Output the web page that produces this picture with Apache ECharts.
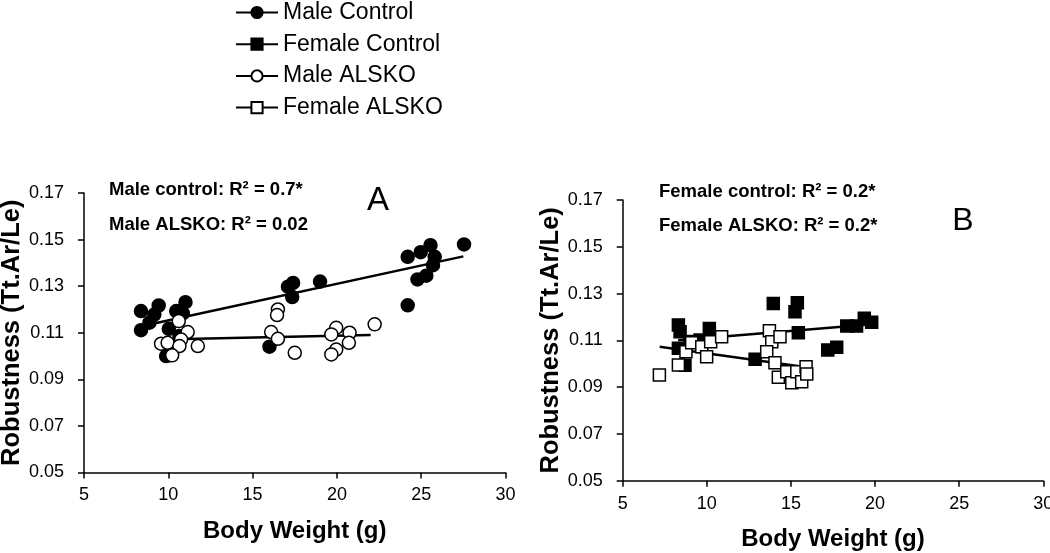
<!DOCTYPE html>
<html>
<head>
<meta charset="utf-8">
<script src="https://cdn.jsdelivr.net/npm/echarts@6/dist/echarts.min.js"></script>
<style>html,body{margin:0;padding:0;background:#fff;}#c{width:1050px;height:553px;}</style>
</head>
<body>
<div id="c"></div>
<script>
// ---- Data ----
var xTicks = [5, 10, 15, 20, 25, 30];
var yTicks = [0.05, 0.07, 0.09, 0.11, 0.13, 0.15, 0.17];

var maleControl = [[8.38,0.1193],[8.38,0.1111],[8.88,0.1143],[9.17,0.1178],[9.43,0.1217],[10.03,0.1117],[10.47,0.1193],[10.86,0.1183],[11.02,0.1231],[10.66,0.1086],[9.87,0.1000],[10.05,0.1003],[16.0,0.1040],[17.1,0.1298],[17.4,0.1314],[17.35,0.1253],[19.0,0.1320],[24.2,0.1426],[24.2,0.1218],[24.97,0.1446],[25.55,0.1476],[25.8,0.1426],[25.7,0.1390],[25.3,0.1345],[24.78,0.1329],[27.54,0.1479]];
var maleAlsko = [[10.62,0.1150],[11.15,0.1103],[10.76,0.1071],[9.57,0.1053],[9.96,0.1057],[10.66,0.1043],[11.75,0.1043],[10.23,0.1003],[16.1,0.1103],[16.5,0.1074],[16.5,0.1200],[16.45,0.1176],[17.5,0.1014],[19.96,0.1121],[19.67,0.1093],[20.75,0.1100],[20.71,0.1057],[19.96,0.1028],[19.67,0.1007],[22.24,0.1136]];
var femaleControl = [[8.31,0.1166],[8.41,0.1137],[10.15,0.1151],[8.31,0.1066],[8.7,0.0994],[9.0,0.1095],[9.6,0.1101],[12.87,0.1019],[13.95,0.1258],[15.24,0.1222],[15.38,0.1261],[15.44,0.1132],[17.19,0.1059],[17.72,0.1070],[18.32,0.1161],[18.9,0.1161],[19.36,0.1194],[19.8,0.1177]];
var femaleAlsko = [[7.18,0.0952],[8.31,0.0995],[8.76,0.1051],[9.1,0.1090],[9.7,0.1073],[9.99,0.1030],[10.23,0.1094],[10.88,0.1115],[13.72,0.1141],[13.86,0.1094],[14.35,0.1115],[13.56,0.1051],[14.05,0.1004],[14.25,0.0942],[14.75,0.0966],[15.05,0.0919],[15.35,0.0966],[15.64,0.0923],[15.9,0.0987],[15.94,0.0956]];

var maleControlFit = [[8.4,0.1128],[27.5,0.1428]];
var maleAlskoFit = [[10.3,0.1072],[22.0,0.1090]];
var femaleControlFit = [[8.3,0.1100],[20.0,0.1170]];
var femaleAlskoFit = [[7.2,0.1073],[15.6,0.0988]];

var annotA = ['Male control: R\u00b2 = 0.7*', 'Male ALSKO: R\u00b2 = 0.02'];
var annotB = ['Female control: R\u00b2 = 0.2*', 'Female ALSKO: R\u00b2 = 0.2*'];

// ---- Chart ----
var FONT = '"Liberation Sans", Arial, sans-serif';
var chart = echarts.init(document.getElementById('c'), null, {renderer: 'canvas'});

function xAxis(gi) {
  return {
    type: 'value', gridIndex: gi, min: 5, max: 30, interval: 5,
    name: 'Body Weight (g)', nameLocation: 'middle', nameGap: 47,
    nameTextStyle: {fontFamily: FONT, fontSize: 24, fontWeight: 'bold', color: '#000'},
    axisLine: {lineStyle: {color: '#000', width: 1.5}},
    axisTick: {show: true, inside: false, length: 6, lineStyle: {color: '#000', width: 1.5}, customValues: xTicks},
    axisLabel: {fontFamily: FONT, fontSize: 18, color: '#000', margin: 14, customValues: xTicks},
    splitLine: {show: false}
  };
}
function yAxis(gi, gap) {
  return {
    type: 'value', gridIndex: gi, min: 0.05, max: 0.17, interval: 0.01,
    name: 'Robustness (Tt.Ar/Le)', nameLocation: 'middle', nameGap: gap, nameRotate: 90,
    nameTextStyle: {fontFamily: FONT, fontSize: 25.5, fontWeight: 'bold', color: '#000'},
    axisLine: {show: true, lineStyle: {color: '#000', width: 1.5}},
    axisTick: {show: true, inside: false, length: 6, lineStyle: {color: '#000', width: 1.5}, customValues: yTicks},
    axisLabel: {fontFamily: FONT, fontSize: 18, color: '#000', margin: 20, customValues: yTicks,
      formatter: function (v) { return v.toFixed(2); }},
    splitLine: {show: false}
  };
}
function fitLine(name, data, gi, symbol, fill) {
  return {
    type: 'line', name: name, data: data, xAxisIndex: gi, yAxisIndex: gi,
    symbol: symbol, symbolSize: 12, showSymbol: false, silent: true, z: 1,
    lineStyle: {color: '#000', width: 2.5},
    itemStyle: {color: fill, borderColor: '#000', borderWidth: 1.5}
  };
}
function scatter(name, data, gi, symbol, size, fill) {
  return {
    type: 'scatter', name: name, data: data, xAxisIndex: gi, yAxisIndex: gi,
    symbol: symbol, symbolSize: size, silent: true, z: 2,
    itemStyle: {color: fill, borderColor: '#000', borderWidth: 1.5, opacity: 1}
  };
}
function txt(t, x, y, size, weight, align) {
  return {type: 'text', x: x, y: y, silent: true,
    style: {text: t, font: weight + ' ' + size + 'px ' + FONT, fill: '#000',
      textAlign: align, textVerticalAlign: 'middle'}};
}

chart.setOption({
  animation: false,
  backgroundColor: '#fff',
  legend: {
    orient: 'vertical', left: 230, top: -4,
    itemWidth: 42, itemHeight: 14, itemGap: 8.7,
    data: ['Male Control', 'Female Control', 'Male ALSKO', 'Female ALSKO'],
    textStyle: {fontFamily: FONT, fontSize: 23, color: '#000'},
    selectedMode: false
  },
  grid: [
    {left: 84, top: 193, width: 421.5, height: 279.5, containLabel: false, outerBoundsMode: 'none'},
    {left: 622.7, top: 200, width: 420.6, height: 280.7, containLabel: false, outerBoundsMode: 'none'}
  ],
  xAxis: [xAxis(0), xAxis(1)],
  yAxis: [yAxis(0, 59), yAxis(1, 57)],
  series: [
    fitLine('Male Control', maleControlFit, 0, 'circle', '#000'),
    fitLine('Male ALSKO', maleAlskoFit, 0, 'circle', '#fff'),
    fitLine('Female Control', femaleControlFit, 1, 'rect', '#000'),
    fitLine('Female ALSKO', femaleAlskoFit, 1, 'rect', '#fff'),
    scatter('Male Control', maleControl, 0, 'circle', 13, '#000'),
    scatter('Male ALSKO', maleAlsko, 0, 'circle', 13, '#fff'),
    scatter('Female Control', femaleControl, 1, 'rect', 12, '#000'),
    scatter('Female ALSKO', femaleAlsko, 1, 'rect', 12, '#fff')
  ],
  graphic: [
    txt(annotA[0], 109, 190, 18.5, 'bold', 'left'),
    txt(annotA[1], 109, 224.5, 18.5, 'bold', 'left'),
    txt('A', 378, 201, 33, 'normal', 'center'),
    txt(annotB[0], 659, 192, 18.5, 'bold', 'left'),
    txt(annotB[1], 659, 226, 18.5, 'bold', 'left'),
    txt('B', 963, 221.5, 32, 'normal', 'center')
  ]
});
</script>
</body>
</html>
